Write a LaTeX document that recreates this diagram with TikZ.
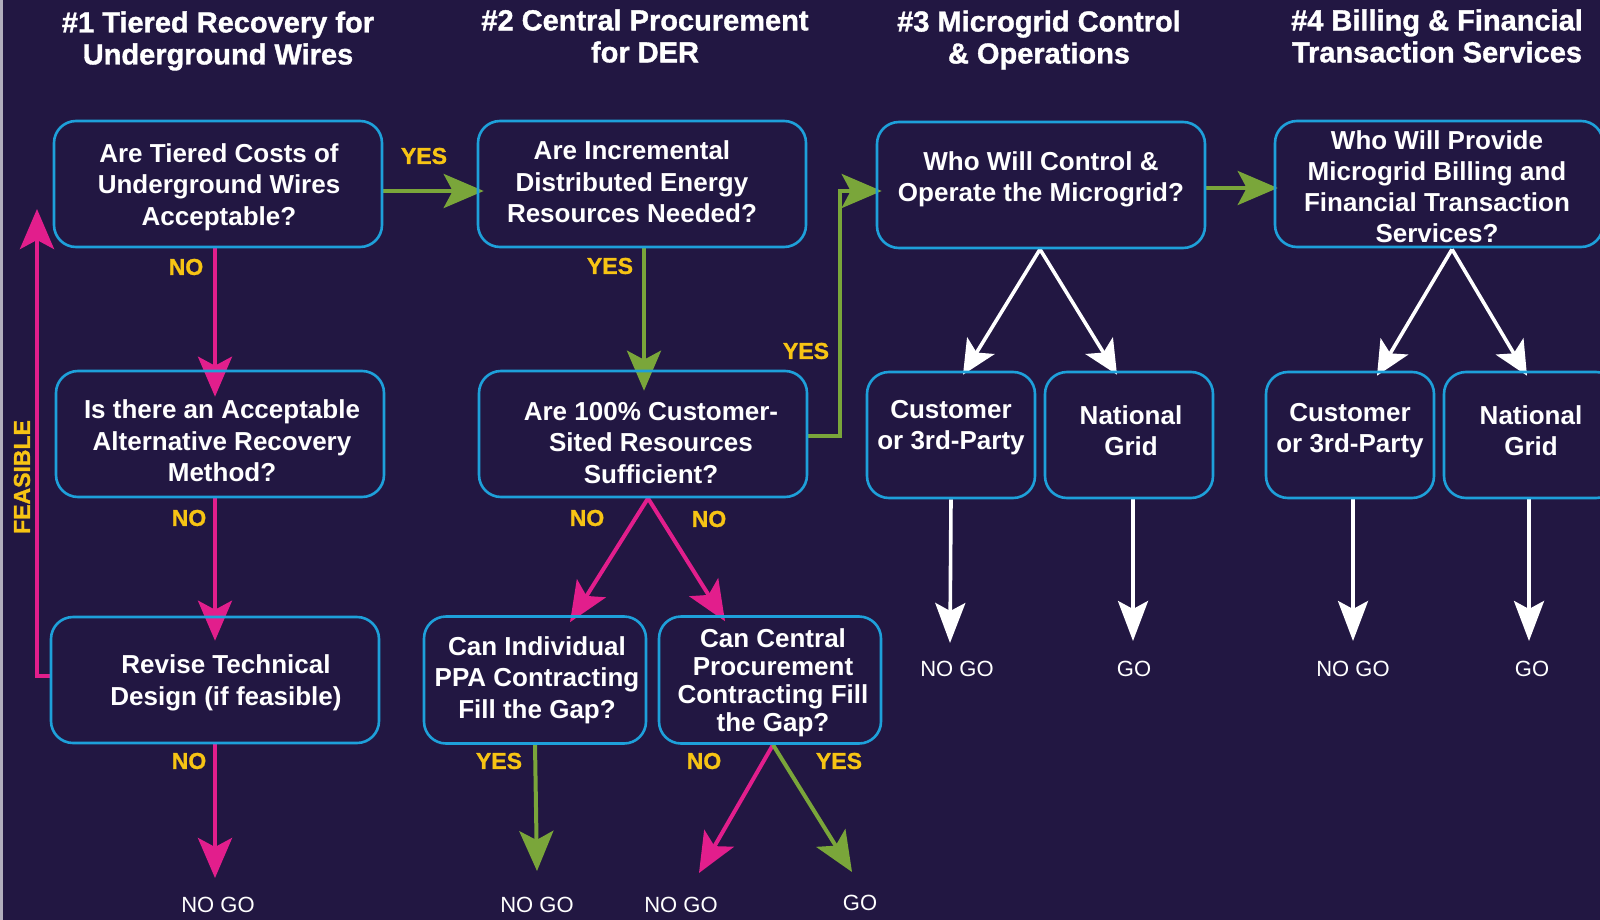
\documentclass[tikz,border=0pt]{standalone}
\usepackage{fontspec}
\setmainfont{Liberation Sans}
\newfontface\hdrfont{Liberation Sans Bold}[FakeBold=1.2]
\usetikzlibrary{arrows.meta,calc}
\definecolor{bg}{RGB}{34,23,66}
\definecolor{boxc}{RGB}{30,160,218}
\definecolor{grn}{RGB}{122,166,58}
\definecolor{mag}{RGB}{226,30,140}
\definecolor{ylw}{RGB}{247,196,20}
\pgfdeclarelayer{bgl}
\pgfsetlayers{bgl,main}
\begin{document}
\begin{tikzpicture}[x=0.5pt,y=-0.5pt,
  box/.style={draw=boxc, line width=1.3pt, rounded corners=11pt, inner sep=0pt},
  bigbox/.style={box, minimum width=164pt, minimum height=63pt},
  smallbox/.style={box, minimum width=111pt, minimum height=63.5pt},
  tinybox/.style={box, minimum width=84pt, minimum height=63pt},
  txt/.style={text=white, font=\bfseries\fontsize{13}{15.75}\selectfont, align=center, inner sep=0pt},
  txtb/.style={text=white, font=\bfseries\fontsize{13}{15.5}\selectfont, align=center, inner sep=0pt},
  hdr/.style={text=white, font=\hdrfont\fontsize{14.5}{16}\selectfont, align=center, inner sep=0pt},
  lbl/.style={text=ylw, font=\hdrfont\fontsize{11.5}{12}\selectfont, inner sep=0pt},
  endt/.style={text=white, font=\fontsize{11}{12}\selectfont, inner sep=0pt},
  arr/.style={line width=2pt, -{Stealth[length=20pt, width=17pt, inset=4.5pt]}},
  garr/.style={arr, draw=grn, color=grn},
  marr/.style={arr, draw=mag, color=mag},
  warr/.style={line width=1.8pt, draw=white, color=white, -{Stealth[length=20pt, width=15pt, inset=4pt]}},
  wdarr/.style={line width=1.8pt, draw=white, color=white, -{Stealth[length=17pt, width=16pt, inset=4pt]}}]
\begin{pgfonlayer}{bgl}
\fill[bg] (0,0) rectangle (1600,920);
\fill[white!65!bg] (0,0) rectangle (3,920);
\end{pgfonlayer}
\useasboundingbox (0,0) rectangle (1600,920);

% headers
\node[hdr] (h1) at (218,41) {\#1 Tiered Recovery for\\Underground Wires};
\node[hdr] (h2) at (645,36) {\#2 Central Procurement\\for DER};
\node[hdr] (h3) at (1039,40) {\#3 Microgrid Control\\\& Operations};
\node[hdr] (h4) at (1437,36) {\#4 Billing \& Financial\\Transaction Services};

% boxes
\node[bigbox] (b1) at (218,184) {};
\node[bigbox] (b2) at (642,184) {};
\node[bigbox] (b3) at (1041,185) {};
\node[bigbox] (b4) at (1439,184) {};
\node[bigbox] (b5) at (220,434) {};
\node[bigbox] (b6) at (643,434) {};
\node[bigbox] (b7) at (215,680) {};
\node[smallbox] (b8) at (535,680) {};
\node[smallbox] (b9) at (770,680) {};
\node[tinybox] (b10) at (951,435) {};
\node[tinybox] (b11) at (1129,435) {};
\node[tinybox] (b12) at (1350,435) {};
\node[tinybox, minimum width=87pt] (b13) at (1531,435) {};

% box texts
\node[txt] (t1) at (219,187) {Are Tiered Costs of\\Underground Wires\\Acceptable?};
\node[txt] (t2) at (632,182) {Are Incremental\\Distributed Energy\\Resources Needed?};
\node[txtb] (t3) at (1041,179) {Who Will Control \&\\Operate the Microgrid?};
\node[txtb] (t4) at (1437,187) {Who Will Provide\\Microgrid Billing and\\Financial Transaction\\Services?};
\node[txt] (t5) at (222,441) {Is there an Acceptable\\Alternative Recovery\\Method?};
\node[txt] (t6) at (651,443) {Are 100\% Customer-\\Sited Resources\\Sufficient?};
\node[txt] (t7) at (226,683) {Revise Technical\\Design (if feasible)};
\node[txt] (t8) at (537,680) {Can Individual\\PPA Contracting\\Fill the Gap?};
\node[txt, font=\bfseries\fontsize{13}{14}\selectfont] (t9) at (773,683) {Can Central\\Procurement\\Contracting Fill\\the Gap?};
\node[txtb] (t10) at (951,428) {Customer\\or 3rd-Party};
\node[txtb] (t11) at (1131,431) {National\\Grid};
\node[txtb] (t12) at (1350,431) {Customer\\or 3rd-Party};
\node[txtb] (t13) at (1531,431) {National\\Grid};

% end texts
\node[endt] (n1) at (218,905) {NO GO};
\node[endt] (n2) at (537,905) {NO GO};
\node[endt] (n3) at (681,905) {NO GO};
\node[endt] (n4) at (860,903) {GO};
\node[endt] (n5) at (957,669) {NO GO};
\node[endt] (n6) at (1134,669) {GO};
\node[endt] (n7) at (1353,669) {NO GO};
\node[endt] (n8) at (1532,669) {GO};

% free ends
\coordinate (e1) at (215,878);
\coordinate (e2) at (537,871);
\coordinate (e3) at (699,873);
\coordinate (e4) at (852,872);
\coordinate (e5) at (950,643);
\coordinate (e6) at (1133,641);
\coordinate (e7) at (1353,641);
\coordinate (e8) at (1529,641);
\coordinate (lp) at (37,676);
\coordinate (lt) at (37,209);

\begin{pgfonlayer}{bgl}
% connectors column 1
\draw[garr] ($(b1.east)+(0,7)$) -- ($(b2.west)+(7,7)$);
\draw[marr] ($(b1.south)+(-3,0)$) -- ($(b5.north)+(-5,27)$);
\draw[marr] ($(b5.south)+(-5,0)$) -- ($(b7.north)+(0,25)$);
\draw[marr] (b7.south) -- (e1);
\draw[marr] ($(b7.west)+(0,-4)$) -- (lp) -- (lt);

% column 2
\draw[garr] ($(b2.south)+(2,0)$) -- ($(b6.north)+(1,21)$);
\draw[garr] ($(b6.east)+(0,2)$) -| ($(b3.west)+(-36,6)$) -- ($(b3.west)+(6,6)$);
\draw[marr] ($(b6.south)+(5,0)$) -- ($(b8.north)+(35,7)$);
\draw[marr] ($(b6.south)+(5,0)$) -- ($(b9.north)+(-45,6)$);
\draw[garr] (b8.south) -- (e2);
\draw[marr] ($(b9.south)+(3,0)$) -- (e3);
\draw[garr] ($(b9.south)+(3,0)$) -- (e4);

% column 3
\draw[garr] ($(b3.east)+(0,3)$) -- ($(b4.west)+(4,4)$);
\draw[wdarr] ($(b3.south)+(-1,0)$) -- ($(b10.north)+(12,4)$);
\draw[wdarr] ($(b3.south)+(-1,0)$) -- ($(b11.north)+(-12,4)$);
\draw[warr] (b10.south) -- (e5);
\draw[warr] ($(b11.south)+(4,0)$) -- (e6);

% column 4
\draw[wdarr] ($(b4.south)+(13,1)$) -- ($(b12.north)+(27,5)$);
\draw[wdarr] ($(b4.south)+(13,1)$) -- ($(b13.north)+(-4,5)$);
\draw[warr] ($(b12.south)+(3,0)$) -- (e7);
\draw[warr] ($(b13.south)+(-2,0)$) -- (e8);
\end{pgfonlayer}

% labels
\node[lbl] (l1) at (424,156) {YES};
\node[lbl] (l2) at (186,267) {NO};
\node[lbl] (l3) at (189,518) {NO};
\node[lbl] (l4) at (189,761) {NO};
\node[lbl] (l5) at (610,266) {YES};
\node[lbl] (l6) at (806,351) {YES};
\node[lbl] (l7) at (587,518) {NO};
\node[lbl] (l8) at (709,519) {NO};
\node[lbl] (l9) at (499,761) {YES};
\node[lbl] (l10) at (704,761) {NO};
\node[lbl] (l11) at (839,761) {YES};
\node[lbl, rotate=90] (l12) at (22,477) {FEASIBLE};
\end{tikzpicture}
\end{document}
